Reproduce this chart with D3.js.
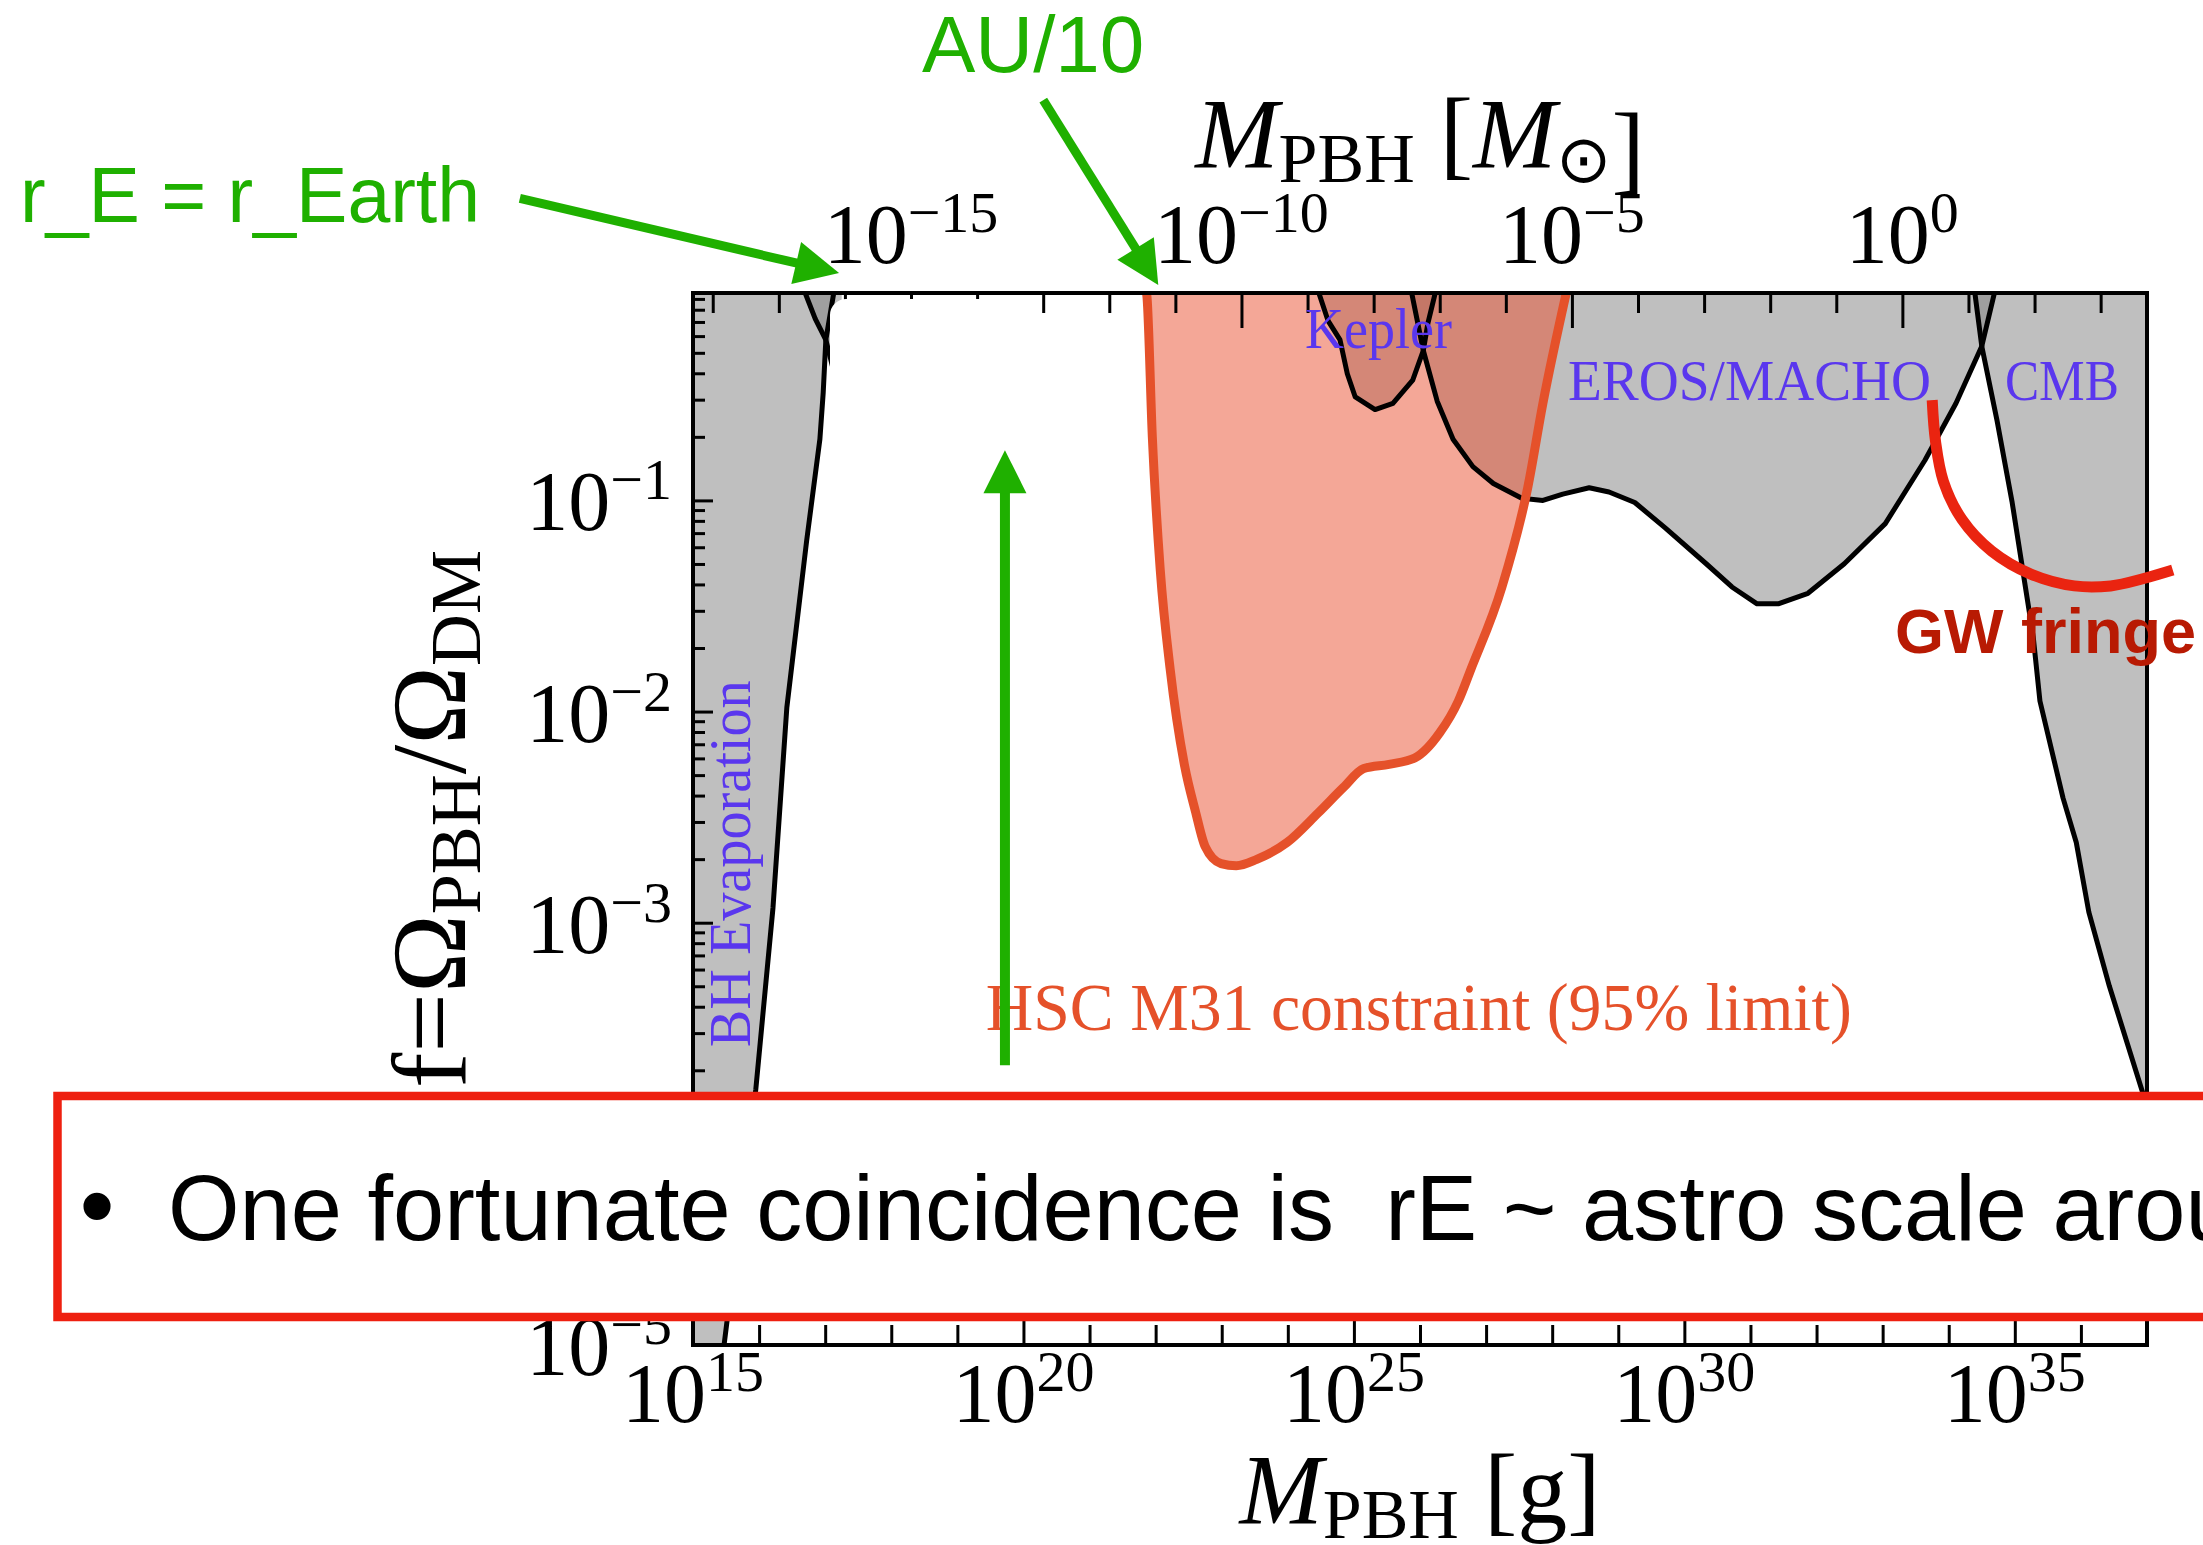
<!DOCTYPE html>
<html><head><meta charset="utf-8">
<script src="https://cdn.jsdelivr.net/npm/d3@7"></script>
<style>
html,body{margin:0;padding:0;background:#fff;overflow:hidden}
svg{display:block}
text{white-space:pre}
</style></head><body>
<svg id="chart" width="2203" height="1545"></svg>
<script>
// ================= DATA (log10 of M in grams, log10 of f = Ω_PBH/Ω_DM) =================
const MSUN_G = 1.989e33;

const evapLgM   = [15.00, 15.47, 15.95, 16.21, 16.42, 16.72, 16.92, 16.97, 17.01, 17.15];
const evapLgF   = [-5.00, -5.00, -3.79, -2.93, -1.98, -1.19, -0.71, -0.49, -0.24, 0.02];

const femtoLgM  = [16.65, 16.85, 17.01, 17.13, 17.25];
const femtoLgF  = [0.02, -0.14, -0.24, -0.39, -0.57];

const keplerLgM = [24.43, 24.61, 24.79, 24.90, 25.02, 25.32, 25.59, 25.89, 26.05, 26.12, 26.26];
const keplerLgF = [0.02, -0.15, -0.24, -0.40, -0.51, -0.57, -0.54, -0.43, -0.29, -0.16, 0.02];

const erosLgM   = [25.85, 26.05, 26.26, 26.50, 26.80, 27.11, 27.54, 27.86, 28.16, 28.56, 28.86, 29.25,
                   29.71, 30.33, 30.72, 31.10, 31.42, 31.87, 32.42, 33.04, 33.64, 34.11, 34.50, 34.72];
const erosLgF   = [0.02, -0.29, -0.53, -0.71, -0.84, -0.92, -0.99, -1.00, -0.97, -0.94, -0.96, -1.01,
                   -1.13, -1.30, -1.41, -1.49, -1.49, -1.44, -1.30, -1.11, -0.81, -0.54, -0.27, 0.02];

const cmbLgM    = [34.38, 34.50, 34.73, 34.96, 35.28, 35.38, 35.73, 35.93, 36.12, 36.43, 36.92, 37.20];
const cmbLgF    = [0.02, -0.27, -0.62, -1.01, -1.65, -1.95, -2.41, -2.62, -2.95, -3.30, -3.79, -4.08];

const hscLgM    = [21.84, 21.87, 21.95, 22.07, 22.22, 22.44, 22.60, 22.75, 22.99, 23.22, 23.53, 23.99,
                   24.46, 24.84, 25.15, 25.53, 25.92, 26.30, 26.58, 26.77, 27.24, 27.63, 27.86, 28.24];
const hscLgF    = [0.02, -0.04, -0.70, -1.33, -1.80, -2.26, -2.47, -2.64, -2.72, -2.73, -2.70, -2.62,
                   -2.48, -2.36, -2.27, -2.25, -2.22, -2.10, -1.95, -1.80, -1.41, -0.94, -0.54, 0.02];

// GW fringe annotation arc (log10 units)
const gwLgM = [33.75, 33.80, 33.92, 34.20, 34.65, 35.25, 35.90, 36.45, 36.95, 37.39];
const gwLgF = [-0.525, -0.72, -0.91, -1.09, -1.24, -1.35, -1.405, -1.405, -1.37, -1.33];

// axis ticks
const bottomMajor = [1e15, 1e20, 1e25, 1e30, 1e35];
const bottomLabels = ["15", "20", "25", "30", "35"];
const bottomMinor = [1e16,1e17,1e18,1e19,1e21,1e22,1e23,1e24,1e26,1e27,1e28,1e29,1e31,1e32,1e33,1e34,1e36,1e37];
const topMajor = [1e-15, 1e-10, 1e-5, 1e0];
const topLabels = ["\u221215", "\u221210", "\u22125", "0"];
const topMinor = [1e-18,1e-17,1e-16,1e-14,1e-13,1e-12,1e-11,1e-9,1e-8,1e-7,1e-6,1e-4,1e-3,1e-2,1e-1,1e1,1e2,1e3];
const leftMajor = [1e-5, 1e-4, 1e-3, 1e-2, 1e-1];
const leftLabels = ["\u22125", "\u22124", "\u22123", "\u22122", "\u22121"];
const leftMinorMult = [2,3,4,5,6,7,8,9];

// ================= SETUP =================
const SERIF = "'Liberation Serif','Times New Roman',serif";
const SANS = "'Liberation Sans',Arial,Helvetica,sans-serif";
const GREEN = "#1fb000", BLUE = "#5a37ee", HSC = "#e5512a";

const svg = d3.select("#chart");
svg.append("rect").attr("width", 2203).attr("height", 1545).attr("fill", "#fff");

const x = d3.scaleLog().domain([1e15, 1e37]).range([693, 2147]);
const y = d3.scaleLog().domain([1e-5, 0.96]).range([1345, 293]);
const xs = d3.scaleLog().domain([1e15 / MSUN_G, 1e37 / MSUN_G]).range(x.range());
const P = (m, f) => [x(Math.pow(10, m)), y(Math.pow(10, f))];
const pts = (ms, fs) => ms.map((m, i) => ({M: Math.pow(10, m), f: Math.pow(10, fs[i])}));

const X0 = x.range()[0], X1 = x.range()[1], Y0 = y.range()[1], Y1 = y.range()[0];

svg.append("clipPath").attr("id", "plotclip").append("rect")
  .attr("x", X0).attr("y", Y0).attr("width", X1 - X0).attr("height", Y1 - Y0);
const plot = svg.append("g").attr("clip-path", "url(#plotclip)");

const areaGen = c => d3.area().x(d => x(d.M)).y0(Y0).y1(d => y(d.f)).curve(c);
const lineGen = c => d3.line().x(d => x(d.M)).y(d => y(d.f)).curve(c);

const grayRegions = [
  pts(evapLgM, evapLgF), pts(femtoLgM, femtoLgF), pts(keplerLgM, keplerLgF),
  pts(erosLgM, erosLgF), pts(cmbLgM, cmbLgF)
];
grayRegions.forEach(r => plot.append("path").attr("d", areaGen(d3.curveLinear)(r))
  .attr("fill", "#7f7f7f").attr("fill-opacity", 0.5));

const hsc = pts(hscLgM, hscLgF);
plot.append("path").attr("d", areaGen(d3.curveMonotoneX)(hsc)).attr("fill", "#e94f2f").attr("fill-opacity", 0.5);

grayRegions.forEach((r, i) => {
  const rr = i === 0 ? r.slice(1) : r;
  plot.append("path").attr("d", lineGen(d3.curveLinear)(rr))
    .attr("fill", "none").attr("stroke", "#000").attr("stroke-width", 5).attr("stroke-linejoin", "round");
});
plot.append("path").attr("d", lineGen(d3.curveMonotoneX)(hsc))
  .attr("fill", "none").attr("stroke", HSC).attr("stroke-width", 9);

// ================= AXES =================
function ticks(axis, transform, w) {
  const g = svg.append("g").attr("transform", transform).call(axis);
  g.select(".domain").remove();
  g.selectAll("line").attr("stroke", "#000").attr("stroke-width", w);
  g.selectAll("text").remove();
}
ticks(d3.axisBottom(x).tickValues(bottomMinor).tickSizeInner(-20).tickSizeOuter(0), `translate(0,${Y1})`, 3);
ticks(d3.axisBottom(x).tickValues(bottomMajor).tickSizeInner(-35).tickSizeOuter(0), `translate(0,${Y1})`, 3);
ticks(d3.axisTop(xs).tickValues(topMinor).tickSizeInner(-20).tickSizeOuter(0), `translate(0,${Y0})`, 3);
ticks(d3.axisTop(xs).tickValues(topMajor).tickSizeInner(-35).tickSizeOuter(0), `translate(0,${Y0})`, 3);
const leftMinor = [];
leftMajor.forEach(v => leftMinorMult.forEach(k => { if (v * k < y.domain()[1]) leftMinor.push(v * k); }));
ticks(d3.axisLeft(y).tickValues(leftMinor).tickSizeInner(-12).tickSizeOuter(0), `translate(${X0},0)`, 3);
ticks(d3.axisLeft(y).tickValues(leftMajor).tickSizeInner(-20).tickSizeOuter(0), `translate(${X0},0)`, 3);

svg.append("rect").attr("x", X0).attr("y", Y0).attr("width", X1 - X0).attr("height", Y1 - Y0)
  .attr("fill", "none").attr("stroke", "#000").attr("stroke-width", 4);

// white cover patch (as in the reference)
svg.append("rect").attr("x", 830).attr("y", 299).attr("width", 170).attr("height", 194)
  .attr("rx", 16).attr("fill", "#fff");

function powLabel(px, py, anchor, exp) {
  const t = svg.append("text").attr("x", px).attr("y", py).attr("text-anchor", anchor)
    .attr("font-family", SERIF).attr("font-size", 84).attr("fill", "#000");
  t.append("tspan").text("10");
  t.append("tspan").attr("font-size", 58).attr("dy", -31).text(exp);
}
bottomMajor.forEach((v, i) => powLabel(x(v), 1422, "middle", bottomLabels[i]));
topMajor.forEach((v, i) => powLabel(xs(v), 263, "middle", topLabels[i]));
leftMajor.forEach((v, i) => powLabel(672, y(v) + 30, "end", leftLabels[i]));

// axis titles
function massTitle(cx, by, unitParts) {
  const t = svg.append("text").attr("x", cx).attr("y", by).attr("text-anchor", "middle")
    .attr("font-family", SERIF).attr("font-size", 100).attr("fill", "#000");
  t.append("tspan").attr("font-style", "italic").text("M");
  t.append("tspan").attr("font-size", 70).attr("dy", 15).text("PBH");
  t.append("tspan").attr("dy", -15).text(" [");
  unitParts(t);
  t.append("tspan").text("]");
}
massTitle((X0 + X1) / 2, 167, t => {
  t.append("tspan").attr("font-style", "italic").text("M");
  t.append("tspan").attr("font-size", 66).attr("dy", 15).text("\u2299");
  t.append("tspan").attr("dy", -15).text("");
});
massTitle((X0 + X1) / 2, 1523, t => { t.append("tspan").text("g"); });

const yt = svg.append("text").attr("transform", `translate(465,${(Y0 + Y1) / 2}) rotate(-90)`)
  .attr("text-anchor", "middle").attr("font-family", SERIF).attr("font-size", 106).attr("fill", "#000");
yt.append("tspan").text("f=\u03A9");
yt.append("tspan").attr("font-size", 72).attr("dy", 15).text("PBH");
yt.append("tspan").attr("dy", -15).text("/\u03A9");
yt.append("tspan").attr("font-size", 72).attr("dy", 15).text("DM");

// region labels
function lbl(m, f, s, size, color, len, rot) {
  const [px, py] = P(m, f);
  svg.append("text").attr("transform", `translate(${px},${py})` + (rot ? " rotate(-90)" : ""))
    .attr("font-family", SERIF).attr("font-size", size).attr("fill", color)
    .attr("textLength", len).attr("lengthAdjust", "spacingAndGlyphs").text(s);
}
lbl(24.26, -0.279, "Kepler", 56, BLUE, 147);
lbl(28.24, -0.525, "EROS/MACHO", 57, BLUE, 363);
lbl(34.85, -0.525, "CMB", 56, BLUE, 114);
lbl(15.86, -3.59, "BH Evaporation", 60, BLUE, 367, true);
lbl(19.43, -3.51, "HSC M31 constraint (95% limit)", 67, HSC, 866);

// ================= ANNOTATIONS =================
function arrow(p0, tip, w, L, H) {
  const dx = tip[0] - p0[0], dy = tip[1] - p0[1], len = Math.hypot(dx, dy);
  const ux = dx / len, uy = dy / len, bx = tip[0] - ux * L, by = tip[1] - uy * L;
  svg.append("line").attr("x1", p0[0]).attr("y1", p0[1]).attr("x2", bx + ux * 2).attr("y2", by + uy * 2)
    .attr("stroke", GREEN).attr("stroke-width", w);
  svg.append("path").attr("fill", GREEN)
    .attr("d", `M${tip[0]},${tip[1]}L${bx - uy * H},${by + ux * H}L${bx + uy * H},${by - ux * H}Z`);
}
arrow(P(12.38, 0.43), P(17.21, 0.077), 9, 44, 21.5);
arrow(P(20.30, 0.896), P(22.04, 0.02), 9, 43, 21.5);
arrow(P(19.72, -3.675), P(19.72, -0.762), 10, 43, 21.5);

svg.append("text").attr("x", 922).attr("y", 72).attr("font-family", SANS).attr("font-size", 80)
  .attr("fill", GREEN).text("AU/10");
svg.append("text").attr("x", 20).attr("y", 222).attr("font-family", SANS).attr("font-size", 77)
  .attr("fill", GREEN).text("r_E = r_Earth");

svg.append("path").attr("d", lineGen(d3.curveCatmullRom)(pts(gwLgM, gwLgF)))
  .attr("fill", "none").attr("stroke", "#ea2410").attr("stroke-width", 11);
svg.append("text").attr("x", 1895).attr("y", 653).attr("font-family", SANS).attr("font-weight", "bold")
  .attr("font-size", 63).attr("fill", "#b81a03").text("GW fringe");

// slide overlay box
svg.append("rect").attr("x", 57.5).attr("y", 1096).attr("width", 2300).attr("height", 221)
  .attr("fill", "#fff").attr("stroke", "#ee2010").attr("stroke-width", 8.5);
svg.append("text").attr("x", 97).attr("y", 1240).attr("text-anchor", "middle").attr("font-family", SANS)
  .attr("font-size", 100).attr("fill", "#000").text("\u2022");
svg.append("text").attr("x", 168).attr("y", 1240).attr("font-family", SANS).attr("font-size", 92)
  .attr("fill", "#000").text("One fortunate coincidence is  rE ~ astro scale around");
</script>
</body></html>
